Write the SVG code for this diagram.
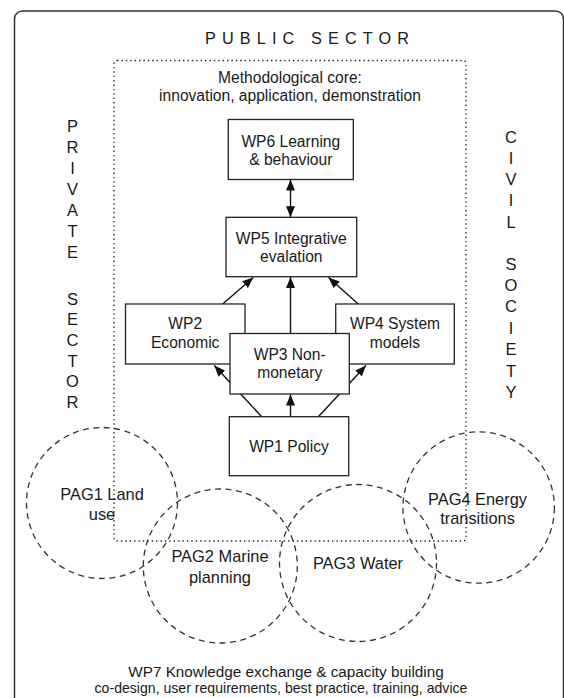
<svg xmlns="http://www.w3.org/2000/svg" width="564" height="698" viewBox="0 0 564 698">
<style>
text{font-family:"Liberation Sans",Arial,Helvetica,sans-serif;fill:#1a1a1a}
.t{font-size:15.6px;text-anchor:middle}
.p{font-size:16.4px;text-anchor:middle}
.side{font-size:16.5px;text-anchor:middle}
.box{fill:#fff;stroke:#222;stroke-width:1.3}
.pag{fill:none;stroke:#333;stroke-width:1.3;stroke-dasharray:6 4.5}
.link{stroke:#111;stroke-width:1.4;fill:none}
</style>
<defs>
<marker id="ah" markerUnits="userSpaceOnUse" markerWidth="12" markerHeight="10" refX="11" refY="4.5" orient="auto-start-reverse" viewBox="0 0 12 9">
<path d="M0,0 L11,4.5 L0,9 z" fill="#111"/>
</marker>
</defs>
<rect id="frame" x="14.5" y="11" width="549" height="700" rx="8" fill="#fff" stroke="#333" stroke-width="1.5"/>
<g id="labels">
<text x="205" y="44" style="font-size:16.3px;letter-spacing:6.1px">PUBLIC SECTOR</text>
<text class="side">
<tspan x="72.5" y="132.3">P</tspan><tspan x="72.5" y="153.3">R</tspan><tspan x="72.5" y="174">I</tspan><tspan x="72.5" y="195">V</tspan><tspan x="72.5" y="216">A</tspan><tspan x="72.5" y="236.7">T</tspan><tspan x="72.5" y="258">E</tspan><tspan x="72.5" y="304.5">S</tspan><tspan x="72.5" y="325">E</tspan><tspan x="72.5" y="345.7">C</tspan><tspan x="72.5" y="366.5">T</tspan><tspan x="72.5" y="387.3">O</tspan><tspan x="72.5" y="408">R</tspan>
</text>
<text class="side">
<tspan x="511" y="142.5">C</tspan><tspan x="511" y="163.5">I</tspan><tspan x="511" y="184.5">V</tspan><tspan x="511" y="206">I</tspan><tspan x="511" y="227.5">L</tspan><tspan x="511" y="270">S</tspan><tspan x="511" y="291">O</tspan><tspan x="511" y="312.3">C</tspan><tspan x="511" y="333.5">I</tspan><tspan x="511" y="355">E</tspan><tspan x="511" y="376.5">T</tspan><tspan x="511" y="397.7">Y</tspan>
</text>
</g>
<g id="core">
<rect x="114" y="60.5" width="352" height="480.5" rx="3" fill="none" stroke="#222" stroke-width="1.3" stroke-dasharray="1.4 3"/>
<text class="t" x="290" y="83">Methodological core:</text>
<text class="t" x="290" y="100.5">innovation, application, demonstration</text>
</g>
<g id="connectors">
<line class="link" x1="290.5" y1="179.5" x2="290.5" y2="217.3" marker-start="url(#ah)" marker-end="url(#ah)"/>
<line class="link" x1="222.7" y1="304" x2="253.3" y2="277.5" marker-end="url(#ah)"/>
<line class="link" x1="290.5" y1="333.5" x2="290.5" y2="277" marker-end="url(#ah)"/>
<line class="link" x1="358.3" y1="304" x2="328.5" y2="277.5" marker-end="url(#ah)"/>
<line class="link" x1="261.7" y1="416.7" x2="214.3" y2="365.5" marker-end="url(#ah)"/>
<line class="link" x1="290.5" y1="416.7" x2="290.5" y2="394.5" marker-end="url(#ah)"/>
<line class="link" x1="318.3" y1="416.7" x2="366" y2="365.5" marker-end="url(#ah)"/>
</g>
<g id="wp6">
<rect class="box" x="228.3" y="119.5" width="125" height="60"/>
<text class="t" x="290.8" y="146.5">WP6 Learning</text>
<text class="t" x="290.8" y="165">&amp; behaviour</text>
</g>
<g id="wp5">
<rect class="box" x="226" y="217.3" width="130.7" height="59.4"/>
<text class="t" x="291.3" y="243.8">WP5 Integrative</text>
<text class="t" x="291.3" y="262">evalation</text>
</g>
<g id="wp2">
<rect class="box" x="125.5" y="304" width="119.5" height="60"/>
<text class="t" x="185.2" y="329">WP2</text>
<text class="t" x="185.2" y="348.3">Economic</text>
</g>
<g id="wp4">
<rect class="box" x="335.7" y="304" width="118.6" height="60"/>
<text class="t" x="395" y="329">WP4 System</text>
<text class="t" x="395" y="348.3">models</text>
</g>
<g id="wp3">
<rect class="box" x="230" y="333.5" width="119.3" height="60.5"/>
<text class="t" x="289.7" y="360">WP3 Non-</text>
<text class="t" x="289.7" y="378.3">monetary</text>
</g>
<g id="wp1">
<rect class="box" x="229.3" y="416.7" width="119.4" height="59"/>
<text class="t" x="289" y="451.7">WP1 Policy</text>
</g>
<g id="pag1">
<circle class="pag" cx="102" cy="503" r="75.5"/>
<text class="p" x="102" y="500">PAG1 Land</text>
<text class="p" x="102" y="520">use</text>
</g>
<g id="pag2">
<circle class="pag" cx="220.3" cy="566" r="77"/>
<text class="p" x="220" y="562">PAG2 Marine</text>
<text class="p" x="220" y="582.5">planning</text>
</g>
<g id="pag3">
<circle class="pag" cx="358" cy="563" r="78.5"/>
<text class="p" x="358" y="569.3">PAG3 Water</text>
</g>
<g id="pag4">
<circle class="pag" cx="478.7" cy="507.5" r="75.7"/>
<text class="p" x="477.5" y="504.5">PAG4 Energy</text>
<text class="p" x="477.5" y="524">transitions</text>
</g>
<g id="wp7">
<text class="t" x="286" y="677" style="font-size:15.3px">WP7 Knowledge exchange &amp; capacity building</text>
<text class="t" x="281" y="693" style="font-size:14.1px">co-design, user requirements, best practice, training, advice</text>
</g>
</svg>
